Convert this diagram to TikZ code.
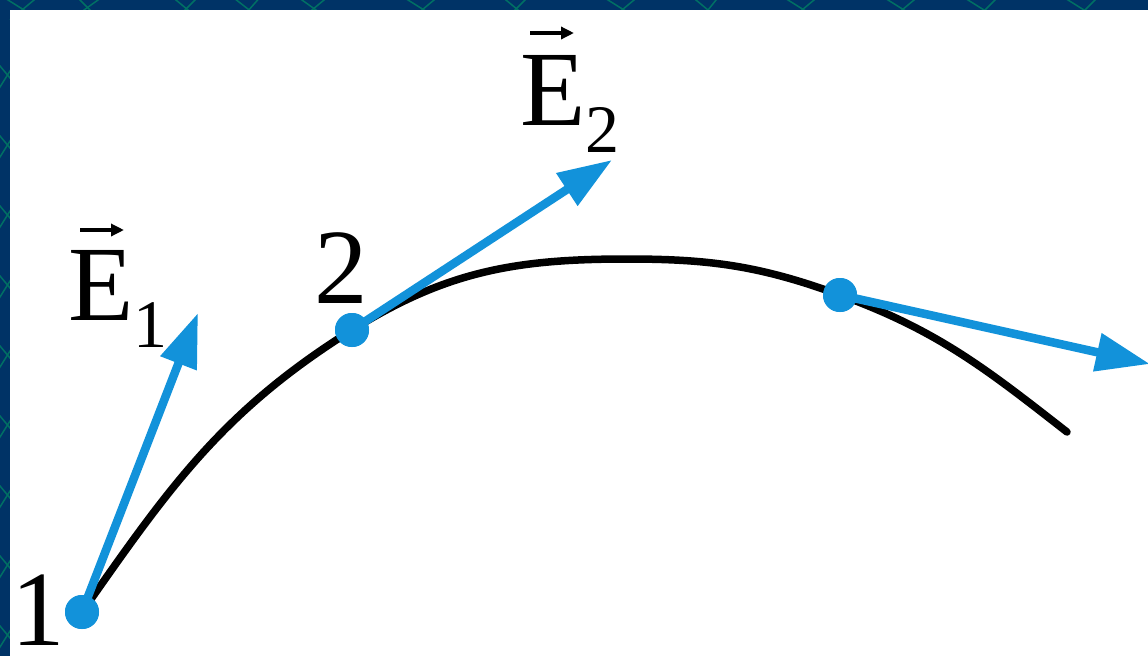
\documentclass[tikz,border=0pt]{standalone}
\usepackage{fontspec}
\setmainfont{Liberation Serif}
\usetikzlibrary{arrows.meta}
\definecolor{navy}{RGB}{0,51,102}
\definecolor{meshgreen}{RGB}{0,112,100}
\definecolor{eblue}{RGB}{18,146,218}
\tikzset{
  curve/.style={line width=7.5pt, black, line cap=round},
  evec/.style={line width=8.5pt, eblue, -{Triangle[length=54pt,width=37pt]}},
  dot/.style={circle, fill=eblue, minimum size=34pt, inner sep=0pt},
  bigtext/.style={inner sep=0pt, anchor=base west, font=\fontsize{107}{110}\selectfont},
  accent/.style={line width=4pt, black, -{Triangle[length=13pt,width=12pt]}},
  mesh/.style={meshgreen, line width=1.5pt}
}
\newcommand{\subsc}[1]{\raisebox{-27pt}{\fontsize{68}{70}\selectfont #1}}
\begin{document}
\begin{tikzpicture}[x=1pt,y=-1pt]
\useasboundingbox (0,0) rectangle (1148,656);
% background frame
\fill[navy] (0,0) rectangle (1148,656);
\begin{scope}
\clip (0,0) rectangle (1148,656);
\foreach \a/\b in {0/40,40/10,75/100,105/70,170/200,200/175,230/262,262/240,295/330,330/300,400/440,440/410,500/530,530/505,600/640,640/610,690/720,720/700,780/820,820/790,880/920,920/890,960/1000,1000/975,1060/1100,1100/1075}
  \draw[mesh] (\a,-5) -- (\b,20);
\foreach \y in {60,130,200,270,340,410,480,550,620}
  {\draw[mesh] (-5,\y) -- (20,\y+30);
   \draw[mesh] (-5,\y+35) -- (20,\y-5);}
\end{scope}
\fill[white] (10,10) rectangle (1148,656);
% points and end
\node[dot] (p1) at (82,612) {};
\node[dot] (p2) at (352,330) {};
\node[dot] (p3) at (840,295) {};
\coordinate (pk) at (627,259);
\coordinate (ce) at (1067,432);
\coordinate (t1) at (198,313);
\coordinate (t2) at (612,160);
\coordinate (t3) at (1150,364);
% curve
\draw[curve] (p1.center) to[out=55,in=212] (p2.center) to[out=32,in=180] (pk)
  to[out=0,in=160] (p3.center) to[out=-20,in=142] (ce);
% field vectors
\draw[evec] (p1.center) -- (t1);
\draw[evec] (p2.center) -- (t2);
\draw[evec] (p3.center) -- (t3);
% dots on top
\node[dot] at (p1) {};
\node[dot] at (p2) {};
\node[dot] at (p3) {};
% labels
\node[bigtext] (l1) at (11,645) {1};
\node[bigtext] (l2) at (314,303) {2};
\node[bigtext] (e1) at (68,320) {E\subsc{1}};
\node[bigtext] (e2) at (520,125) {E\subsc{2}};
\coordinate (a1s) at (80,230);
\coordinate (a1e) at (124,230);
\coordinate (a2s) at (530,33);
\coordinate (a2e) at (574,33);
\draw[accent] (a1s) -- (a1e);
\draw[accent] (a2s) -- (a2e);
\end{tikzpicture}
\end{document}
